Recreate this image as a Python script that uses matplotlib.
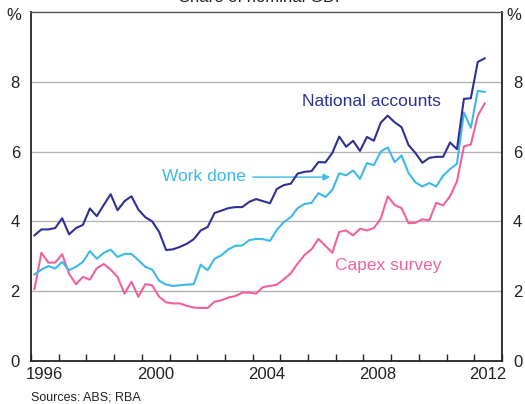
import matplotlib
matplotlib.use("Agg")
import matplotlib.pyplot as plt
import numpy as np

plt.rcParams['font.family'] = ['Liberation Sans', 'DejaVu Sans']

# quarterly, Q1 1996 to Q2 2012, per cent of nominal GDP
national_accounts = [
    3.60, 3.77, 3.77, 3.81, 4.09, 3.63, 3.81, 3.90, 4.37, 4.15, 4.47, 4.78,
    4.32, 4.58, 4.72, 4.34, 4.12, 4.00, 3.70, 3.18, 3.20, 3.27, 3.36, 3.49,
    3.74, 3.84, 4.24, 4.31, 4.38, 4.41, 4.41, 4.56, 4.64, 4.58, 4.52, 4.93,
    5.04, 5.08, 5.37, 5.42, 5.44, 5.70, 5.69, 5.96, 6.43, 6.14, 6.31, 6.02,
    6.42, 6.31, 6.83, 7.03, 6.84, 6.70, 6.19, 5.96, 5.68, 5.82, 5.85, 5.85,
    6.26, 6.07, 7.51, 7.53, 8.57, 8.67]
work_done = [
    2.48, 2.62, 2.72, 2.65, 2.84, 2.60, 2.70, 2.84, 3.15, 2.93, 3.10, 3.19,
    2.98, 3.07, 3.07, 2.89, 2.70, 2.62, 2.30, 2.19, 2.15, 2.17, 2.19, 2.20,
    2.76, 2.60, 2.93, 3.03, 3.20, 3.30, 3.31, 3.46, 3.50, 3.49, 3.44, 3.76,
    3.98, 4.12, 4.38, 4.50, 4.53, 4.81, 4.70, 4.90, 5.38, 5.32, 5.46, 5.22,
    5.67, 5.61, 6.00, 6.12, 5.70, 5.89, 5.39, 5.12, 5.00, 5.10, 5.00, 5.31,
    5.50, 5.65, 7.12, 6.68, 7.74, 7.71]
capex_survey = [
    2.06, 3.10, 2.82, 2.82, 3.06, 2.50, 2.20, 2.41, 2.33, 2.66, 2.78, 2.62,
    2.41, 1.93, 2.27, 1.84, 2.20, 2.17, 1.84, 1.68, 1.65, 1.65, 1.58, 1.53,
    1.52, 1.52, 1.70, 1.74, 1.82, 1.86, 1.96, 1.96, 1.93, 2.12, 2.15, 2.19,
    2.34, 2.51, 2.79, 3.04, 3.20, 3.50, 3.30, 3.10, 3.70, 3.74, 3.60, 3.79,
    3.74, 3.81, 4.08, 4.72, 4.47, 4.38, 3.95, 3.96, 4.06, 4.03, 4.53, 4.46,
    4.72, 5.15, 6.15, 6.20, 7.03, 7.38]

year_labels = ['1996', '2000', '2004', '2008', '2012']

navy = '#2e3192'
cyan = '#3cb9e8'
pink = '#f0619e'

t = 1996 + 0.125 + 0.25 * np.arange(len(national_accounts))

fig = plt.figure(figsize=(5.25, 4.04), dpi=100)
ax = fig.add_axes([31/525, 1 - 361/404, 471/525, 349/404])

for v in [2, 4, 6, 8]:
    ax.axhline(v, color='#b3b3b3', lw=1.0, zorder=1)

ax.plot(t, capex_survey, color=pink, lw=1.5, zorder=3)
ax.plot(t, work_done, color=cyan, lw=1.5, zorder=3)
ax.plot(t, national_accounts, color=navy, lw=1.5, zorder=4)

ax.set_xlim(1996, 2013)
ax.set_ylim(0, 10)

ax.set_xticks(np.arange(1996, 2014), minor=False)
ax.set_xticklabels([])
ax.set_xticks([int(y) + 0.5 for y in year_labels], minor=True)
ax.set_xticklabels(year_labels, minor=True)
ax.tick_params(axis='x', which='major', direction='in', length=5, width=1, color='#222222')
ax.tick_params(axis='x', which='minor', length=0, labelsize=12, pad=4, colors='#222222')

ax.set_yticks([0, 2, 4, 6, 8])
ax.tick_params(axis='y', length=0, labelsize=12, pad=8, colors='#222222',
               labelleft=True, labelright=True)

for side in ['left', 'right', 'bottom']:
    ax.spines[side].set_color('#222222')
    ax.spines[side].set_linewidth(1.3)
ax.spines['top'].set_color('#555555')
ax.spines['top'].set_linewidth(1.0)

ax.text(2008.3, 7.43, 'National accounts', color=navy, fontsize=12.5, ha='center', va='center')
ax.text(2003.75, 5.29, 'Work done', color=cyan, fontsize=12.5, ha='right', va='center')
ax.annotate('', xy=(2006.9, 5.27), xytext=(2003.9, 5.27),
            arrowprops=dict(arrowstyle='-|>', color=cyan, lw=1.0, mutation_scale=10))
ax.text(2008.9, 2.75, 'Capex survey', color=pink, fontsize=12.5, ha='center', va='center')

fig.text(14/525, 1 - 16/404, '%', fontsize=12, ha='center', va='center', color='#222222')
fig.text(514/525, 1 - 16/404, '%', fontsize=12, ha='center', va='center', color='#222222')
fig.text(0.5, 1 + 2/404, 'Share of nominal GDP', fontsize=12, ha='center', va='center', color='#222222')
fig.text(31/525, 1 - 397/404, 'Sources: ABS; RBA', fontsize=9, ha='left', va='center', color='#222222')

fig.savefig('out.png', dpi=100)
